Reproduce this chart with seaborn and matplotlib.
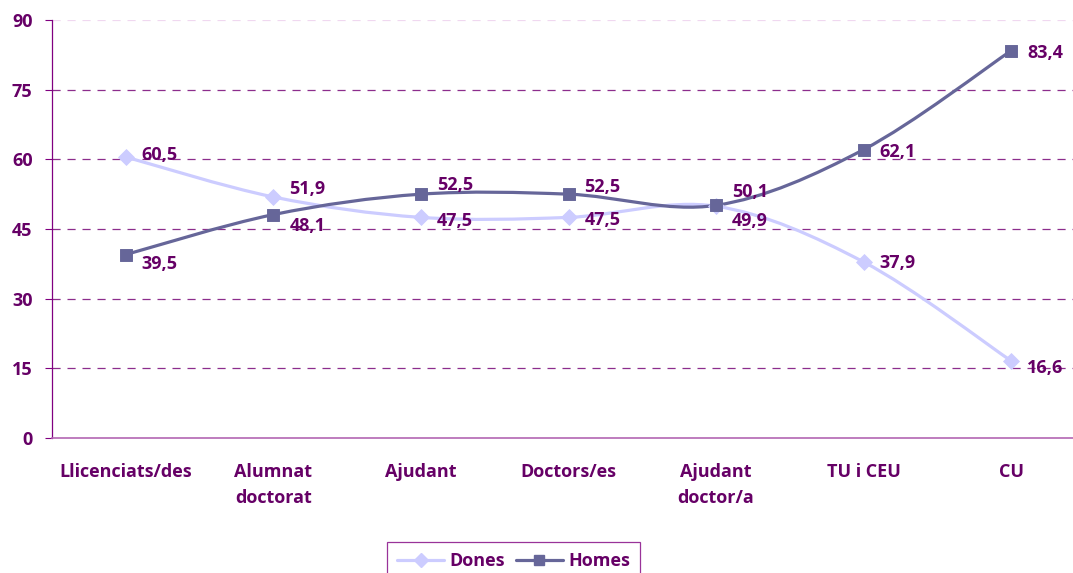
import numpy as np
import pandas as pd
import seaborn as sns
import matplotlib.pyplot as plt
from matplotlib.path import Path
from matplotlib.patches import PathPatch
from matplotlib.lines import Line2D

# data
categories = ['Llicenciats/des', 'Alumnat\ndoctorat', 'Ajudant', 'Doctors/es',
              'Ajudant\ndoctor/a', 'TU i CEU', 'CU']
dones = [60.5, 51.9, 47.5, 47.5, 49.9, 37.9, 16.6]
homes = [39.5, 48.1, 52.5, 52.5, 50.1, 62.1, 83.4]
y_ticks = [0, 15, 30, 45, 60, 75, 90]

# label nudges in pixels (down is positive), one per point
dones_dy = [-2, -8, 4, 3, 15, 1, 7]
homes_dy = [9, 11, -9, -7, -13, 2, 2]

PURPLE = '#660066'
C_DONES = '#ccccff'
C_HOMES = '#666699'
FS = 13

sns.set_theme(style='white')
plt.rcParams['font.family'] = ['Open Sans', 'DejaVu Sans']
plt.rcParams['font.weight'] = 'bold'

df = pd.DataFrame({'cat': range(len(categories)), 'Dones': dones, 'Homes': homes})

fig = plt.figure(figsize=(10.73, 5.73), dpi=100)
ax = fig.add_axes([52 / 1073, 1 - 438 / 573, 1033 / 1073, 418 / 573])


def smooth_path(xs, ys):
    # excel style smoothed line: cubic bezier through every point
    pts = np.column_stack([xs, ys]).astype(float)
    ext = np.vstack([pts[0], pts, pts[-1]])
    verts = [pts[0]]
    codes = [Path.MOVETO]
    for i in range(len(pts) - 1):
        p0, p1, p2, p3 = ext[i], ext[i + 1], ext[i + 2], ext[i + 3]
        verts += [p1 + (p2 - p0) / 6, p2 - (p3 - p1) / 6, p2]
        codes += [Path.CURVE4] * 3
    return Path(verts, codes)


for col, color in [('Dones', C_DONES), ('Homes', C_HOMES)]:
    ax.add_patch(PathPatch(smooth_path(df['cat'], df[col]), facecolor='none',
                           edgecolor=color, lw=2.3, zorder=3))

sns.scatterplot(data=df, x='cat', y='Dones', marker='D', s=65, color=C_DONES,
                edgecolor=C_DONES, ax=ax, zorder=4)
sns.scatterplot(data=df, x='cat', y='Homes', marker='s', s=70, color=C_HOMES,
                edgecolor=C_HOMES, ax=ax, zorder=5)

for vals, dys in [(dones, dones_dy), (homes, homes_dy)]:
    for i, (v, dy) in enumerate(zip(vals, dys)):
        ax.annotate(f'{v:.1f}'.replace('.', ','), (i, v), xytext=(16, -dy),
                    textcoords='offset pixels', ha='left', va='center',
                    fontsize=FS, fontweight='bold', color=PURPLE, zorder=6)

# gridlines
for t in y_ticks[1:]:
    ax.axhline(t, color='#f0d8f0' if t == 90 else '#8c2d8c', lw=0.9,
               dashes=(6.5, 5.5), zorder=1)

ax.set_xlim(-0.5, len(categories) - 0.5)
ax.set_ylim(0, 90)
ax.set_yticks(y_ticks)
ax.set_yticklabels([str(t) for t in y_ticks], fontsize=FS, fontweight='bold', color=PURPLE)
ax.set_xticks(range(len(categories)))
ax.set_xticklabels(categories, fontsize=FS, fontweight='bold', color=PURPLE, linespacing=1.55)
ax.set_xticks(np.arange(-0.5, len(categories), 1), minor=True)
ax.tick_params(axis='x', which='major', length=0, pad=18)
ax.tick_params(axis='x', which='minor', length=5, width=0.8, color='#993399', direction='out')
ax.tick_params(axis='y', length=5, width=0.8, color='#800080', direction='out', pad=9, left=True)
ax.set_xlabel('')
ax.set_ylabel('')

for s in ['top', 'right']:
    ax.spines[s].set_visible(False)
ax.spines['left'].set_color('#800080')
ax.spines['left'].set_linewidth(0.9)
ax.spines['bottom'].set_color('#b366b3')
ax.spines['bottom'].set_linewidth(1.2)

handles = [
    Line2D([], [], color=C_DONES, lw=2.3, marker='D', markersize=7),
    Line2D([], [], color=C_HOMES, lw=2.3, marker='s', markersize=7),
]
leg = fig.legend(handles, ['Dones', 'Homes'], loc='upper center',
                 bbox_to_anchor=(513.5 / 1073, 1 - 542 / 573), ncol=2,
                 frameon=True, fancybox=False, handlelength=2.6,
                 handletextpad=0.3, columnspacing=0.6, borderpad=0.55,
                 borderaxespad=0, prop={'size': FS, 'weight': 'bold'})
leg.get_frame().set_edgecolor('#800080')
leg.get_frame().set_linewidth(0.9)
for txt in leg.get_texts():
    txt.set_color(PURPLE)

fig.savefig('out.png', dpi=100)
